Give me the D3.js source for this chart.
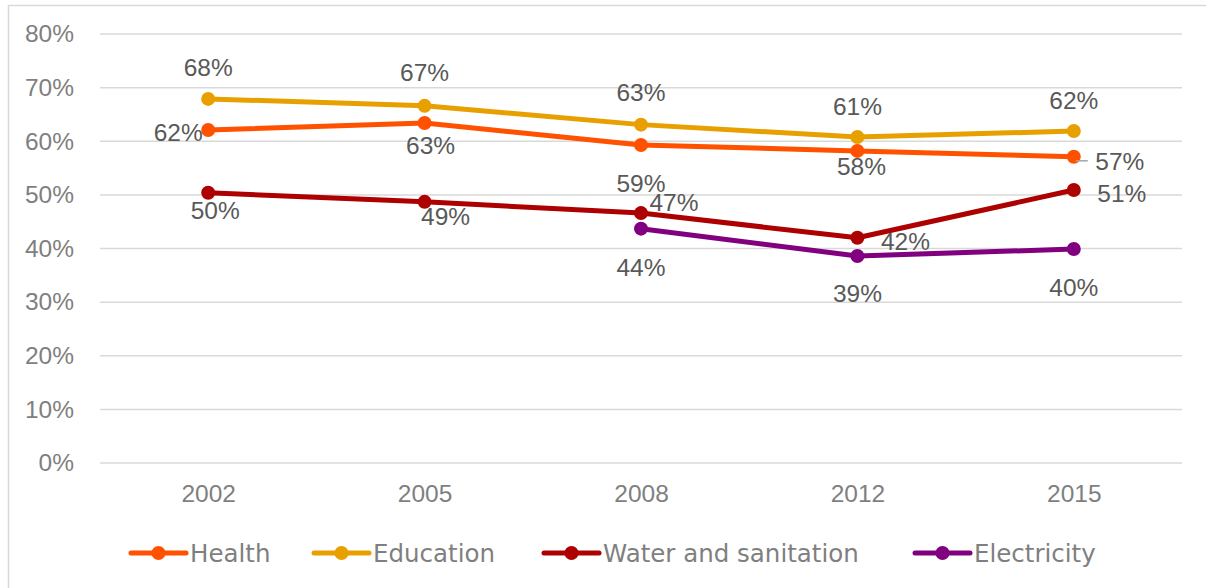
<!DOCTYPE html>
<html lang="en">
<head>
    <meta charset="UTF-8">
    <title>Service access 2002-2015</title>
    <script src="https://d3js.org/d3.v7.min.js"></script>
    <style>
        body {
            margin: 0;
            background: #fff;
            font-family: "Liberation Sans", Arial, sans-serif;
        }
        .tick-label { font-size: 24.5px; fill: #7f7f7f; }
        .data-label { font-size: 24.5px; fill: #595959; }
        .legend-label { font-family: "DejaVu Sans", sans-serif; font-size: 24.5px; fill: #7f7f7f; }
    </style>
</head>
<body>
<div class="chart"></div>
<script>
    // Data
    const years = ["2002", "2005", "2008", "2012", "2015"];
    const health = [62.1, 63.4, 59.3, 58.2, 57.1];
    const education = [67.9, 66.6, 63.1, 60.8, 61.9];
    const water = [50.4, 48.7, 46.6, 42.0, 50.9];
    const electricity = [null, null, 43.7, 38.6, 39.9];
    const yTicks = [0, 10, 20, 30, 40, 50, 60, 70, 80];

    const series = [
        { name: "Health", color: "#ff5100", values: health },
        { name: "Education", color: "#e8a000", values: education },
        { name: "Water and sanitation", color: "#ad0000", values: water },
        { name: "Electricity", color: "#800080", values: electricity }
    ];

    // label placement (dx, dy from the point) - layout only
    const labelOffsets = {
        "Health": [[-30, 3], [6, 22], [0, 38], [4, 16], [46, 5]],
        "Education": [[0, -31], [0, -33], [0, -32], [0, -30], [0, -31]],
        "Water and sanitation": [[7, 18], [21, 15], [33, -11], [48, 4], [48, 3]],
        "Electricity": [null, null, [0, 39], [0, 37], [0, 38]]
    };

    const W = 1206, H = 588;
    const plot = { left: 100, right: 1182, top: 34, bottom: 463 };

    const svg = d3.select(".chart").append("svg")
        .attr("width", W)
        .attr("height", H);

    // outer frame
    svg.append("rect")
        .attr("x", 8.5).attr("y", 5.5)
        .attr("width", W + 20).attr("height", H + 20)
        .attr("fill", "none")
        .attr("stroke", "#d9d9d9")
        .attr("stroke-width", 1.5);

    const x = d3.scalePoint()
        .domain(years)
        .range([plot.left, plot.right])
        .padding(0.5);

    const y = d3.scaleLinear()
        .domain([0, 80])
        .range([plot.bottom, plot.top]);

    // gridlines
    svg.append("g")
        .selectAll("line")
        .data(yTicks)
        .join("line")
        .attr("x1", plot.left).attr("x2", plot.right)
        .attr("y1", d => y(d)).attr("y2", d => y(d))
        .attr("stroke", "#d9d9d9")
        .attr("stroke-width", 1.5);

    // y axis labels
    const yAxis = svg.append("g")
        .attr("transform", `translate(${plot.left},0)`)
        .call(d3.axisLeft(y).tickValues(yTicks).tickFormat(d => d + "%").tickSize(0).tickPadding(26));
    yAxis.select(".domain").remove();
    yAxis.selectAll("text")
        .attr("class", "tick-label")
        .attr("font-family", null)
        .attr("font-size", null)
        .attr("fill", null);

    // x axis labels
    const xAxis = svg.append("g")
        .attr("transform", `translate(0,${plot.bottom})`)
        .call(d3.axisBottom(x).tickSize(0).tickPadding(22));
    xAxis.select(".domain").remove();
    xAxis.selectAll("text")
        .attr("class", "tick-label")
        .attr("font-family", null)
        .attr("font-size", null)
        .attr("fill", null);

    const line = d3.line()
        .defined(d => d != null)
        .x((d, i) => x(years[i]))
        .y(d => y(d));

    // lines and markers
    series.forEach(s => {
        svg.append("path")
            .datum(s.values)
            .attr("fill", "none")
            .attr("stroke", s.color)
            .attr("stroke-width", 5)
            .attr("stroke-linejoin", "round")
            .attr("d", line);

        svg.append("g")
            .selectAll("circle")
            .data(s.values.map((v, i) => ({ v, i })).filter(d => d.v != null))
            .join("circle")
            .attr("cx", d => x(years[d.i]))
            .attr("cy", d => y(d.v))
            .attr("r", 7)
            .attr("fill", s.color);
    });

    // leader line for the Health 2015 label
    svg.append("line")
        .attr("x1", x("2015") + 2).attr("x2", x("2015") + 14)
        .attr("y1", y(health[4]) + 4).attr("y2", y(health[4]) + 4)
        .attr("stroke", "#a6a6a6")
        .attr("stroke-width", 1.5);

    // data labels
    series.forEach(s => {
        svg.append("g")
            .selectAll("text")
            .data(s.values.map((v, i) => ({ v, i })).filter(d => d.v != null))
            .join("text")
            .attr("class", "data-label")
            .attr("text-anchor", "middle")
            .attr("dominant-baseline", "central")
            .attr("x", d => x(years[d.i]) + labelOffsets[s.name][d.i][0])
            .attr("y", d => y(d.v) + labelOffsets[s.name][d.i][1])
            .text(d => Math.round(d.v) + "%");
    });

    // legend
    const legendX = [131, 314, 544, 915];
    const legendY = 553;
    const legend = svg.append("g")
        .selectAll("g")
        .data(series)
        .join("g")
        .attr("transform", (d, i) => `translate(${legendX[i]},${legendY})`);

    legend.append("line")
        .attr("x1", 0).attr("x2", 55)
        .attr("stroke", d => d.color)
        .attr("stroke-width", 5)
        .attr("stroke-linecap", "round");

    legend.append("circle")
        .attr("cx", 27.5)
        .attr("r", 7)
        .attr("fill", d => d.color);

    legend.append("text")
        .attr("class", "legend-label")
        .attr("x", 59)
        .attr("dominant-baseline", "central")
        .text(d => d.name);
</script>
</body>
</html>
